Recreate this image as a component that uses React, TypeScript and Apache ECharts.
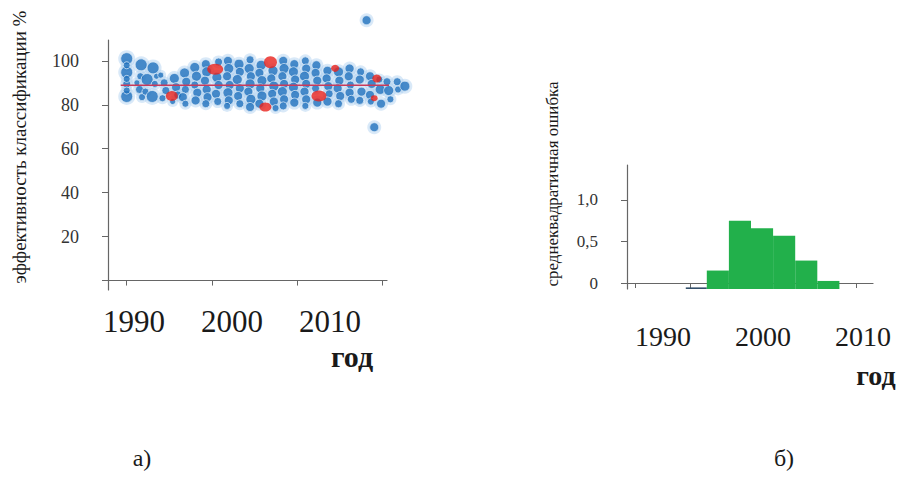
import React, { useEffect, useRef } from "react";
import * as echarts from "echarts";

// ---------- Panel а): classification efficiency by year ----------
const LEFT_Y_TICKS = [0, 20, 40, 60, 80, 100];
const LEFT_Y_LABELS = [20, 40, 60, 80, 100];
const LEFT_X_TICKS = [1990, 2000, 2010, 2020];
const LEFT_X_LABELS = [1990, 2000, 2010];
const MEAN_LINE = [[1989.3, 88.9], [2022.5, 88.9]];

// [year, efficiency %, dot size]
const BLUE_POINTS: number[][] = [
  [1990, 101, 12], [1990, 94.8, 12], [1990, 83.8, 12], [1990, 98, 7], [1990, 89.5, 8], [1990, 86.5, 7], [1990, 91.8, 7],
  [1991.7, 98.2, 12], [1991.5, 87, 8], [1991.8, 83.5, 7], [1991.6, 93, 7], [1991.2, 90, 6],
  [1992.4, 91.5, 12], [1992.2, 86, 7],
  [1993.1, 96.8, 12], [1993.0, 83.8, 12], [1993.3, 89.5, 7], [1993.5, 93, 6],
  [1994.4, 90, 8], [1994.6, 86.5, 8], [1994.2, 83, 7], [1994.0, 93.5, 6],
  [1995.6, 92, 10], [1995.8, 88, 9], [1996, 84.5, 8], [1995.4, 81.5, 6],
  [1996.8, 94.5, 10], [1997, 90.5, 9], [1996.9, 87, 8], [1996.6, 83.5, 9], [1996.9, 80.5, 7],
  [1998, 97, 10], [1998.2, 93, 10], [1998, 89, 8], [1998.3, 85.5, 9], [1998.1, 82, 9],
  [1999.3, 98.5, 9], [1999.4, 95, 10], [1999.2, 91, 9], [1999.4, 87, 9], [1999.5, 83.5, 9], [1999.3, 80.5, 8],
  [2000.8, 99.5, 8], [2000.6, 92.5, 10], [2000.8, 89, 9], [2000.5, 85, 9], [2000.7, 81.5, 8],
  [2001.9, 100, 9], [2002, 96.5, 10], [2001.8, 93, 9], [2002.1, 89, 9], [2001.9, 85.5, 10], [2002, 82, 9], [2001.8, 79.5, 7],
  [2003.2, 98.5, 10], [2003.3, 95, 9], [2003, 91.5, 10], [2003.3, 87.5, 9], [2003.1, 84, 9], [2003.3, 80.5, 8],
  [2004.5, 100.5, 8], [2004.4, 96.5, 10], [2004.6, 93, 9], [2004.5, 89.5, 10], [2004.3, 86, 9], [2004.6, 82.5, 10], [2004.5, 79, 9],
  [2005.8, 98, 10], [2005.6, 94.5, 9], [2005.9, 91, 10], [2005.7, 87.5, 9], [2005.9, 84, 10], [2005.6, 80.5, 9],
  [2007.2, 95.5, 10], [2007, 92, 9], [2007.3, 88.5, 10], [2007.1, 85, 9], [2007.3, 81.5, 9], [2007.5, 78.5, 7],
  [2008.4, 100, 9], [2008.5, 96.5, 10], [2008.3, 93, 9], [2008.5, 89.5, 9], [2008.3, 86, 10], [2008.5, 82.5, 9], [2008.4, 79.5, 8],
  [2009.7, 98.5, 9], [2009.6, 95, 10], [2009.8, 91.5, 9], [2009.6, 88, 10], [2009.8, 84.5, 9], [2009.7, 81, 9],
  [2011, 100, 8], [2011.1, 96.5, 9], [2010.9, 93, 10], [2011.1, 89.5, 9], [2010.9, 86, 9], [2011.1, 82.5, 9], [2011, 79.5, 7],
  [2012.3, 98, 9], [2012.2, 94.5, 9], [2012.4, 91, 9], [2012.2, 87.5, 8], [2012.4, 81, 9],
  [2013.6, 95.5, 9], [2013.5, 92, 9], [2013.7, 88.5, 9], [2013.8, 85, 8], [2013.6, 81.5, 9],
  [2014.9, 95, 10], [2015, 91, 9], [2014.8, 87.5, 9], [2015.1, 84, 9], [2014.9, 80.5, 8],
  [2016.2, 96.5, 9], [2016.1, 93, 9], [2016.3, 89, 8], [2016.2, 85.5, 9], [2016.4, 82.5, 8],
  [2017.5, 95, 8], [2017.4, 91.5, 9], [2017.6, 86, 9], [2017.4, 82, 8],
  [2018.6, 93, 9], [2018.8, 89.5, 9], [2018.6, 84.5, 9], [2018.7, 81.5, 7],
  [2019.8, 87, 10], [2019.7, 91.5, 7], [2019.9, 80.5, 9],
  [2020.8, 86.5, 10], [2020.6, 90.5, 8], [2021, 82.5, 7],
  [2021.8, 90.5, 8], [2021.9, 87, 7],
  [2022.7, 88.5, 10],
  [2018.2, 118.5, 9], [2019.1, 69.8, 9],
];

// [year, efficiency %, width, height]
const RED_POINTS: number[][] = [
  [1995.3, 84, 12, 10], [2000.4, 96.2, 16, 11], [2006.9, 99.4, 13, 12], [2006.3, 79, 12, 9],
  [2012.6, 84, 15, 11], [2014.5, 96.6, 8, 7], [2019.4, 92, 9, 8], [2019.1, 83, 7, 6],
];

// ---------- Panel б): RMSE histogram ----------
const BIN_START = [1989.6, 1991.5, 1993.5, 1995.5, 1997.5, 1999.5, 2001.5];
const BIN_END = [1991.5, 1993.5, 1995.5, 1997.5, 1999.5, 2001.5, 2003.5];
const RMSE = [0, 0.15, 0.75, 0.66, 0.57, 0.27, 0.025];
const RIGHT_Y_TICKS = [0, 0.5, 1.0];
const RIGHT_X_TICKS = [1985, 1990, 1995, 2000, 2005];
const RIGHT_X_LABELS = [1990, 2000, 2010];

const SERIF = "Liberation Serif";
const AXIS_COLOR = "#666";
const TEXT_COLOR = "#1a1a1a";
const RIGHT_Y_MIN = -0.072;

export default function App() {
  const ref = useRef<HTMLDivElement>(null);
  useEffect(() => {
    if (!ref.current) return;
    const chart = echarts.init(ref.current, null, { renderer: "svg" });
    const axisLine = { show: true, lineStyle: { color: AXIS_COLOR, width: 1.2 } };
    const hist = BIN_START.map((s, i) => [s, BIN_END[i], RMSE[i]]);
    const yearFmt = (v: number) => String(v);
    chart.setOption({
      animation: false,
      backgroundColor: "#fff",
      grid: [
        { left: 108, top: 40, width: 279, height: 250 },
        { left: 627, top: 165, width: 246, height: 124 },
      ],
      xAxis: [
        {
          gridIndex: 0, type: "value", min: 1987.8, max: 2020.6, position: "bottom",
          axisLine, splitLine: { show: false },
          axisTick: { show: true, customValues: LEFT_X_TICKS, length: 5, lineStyle: { color: AXIS_COLOR } },
          axisLabel: { show: false },
        },
        {
          gridIndex: 0, type: "value", min: 1987.35, max: 2015.82, position: "bottom",
          axisLine: { show: false }, axisTick: { show: false }, splitLine: { show: false },
          axisLabel: { customValues: LEFT_X_LABELS, formatter: yearFmt, fontSize: 31, fontFamily: SERIF, color: TEXT_COLOR, margin: 16 },
        },
        {
          gridIndex: 1, type: "value", min: 1984.28, max: 2006.54, position: "bottom",
          axisLine, splitLine: { show: false },
          axisTick: { show: true, customValues: RIGHT_X_TICKS, length: 5, lineStyle: { color: AXIS_COLOR } },
          axisLabel: { show: false },
        },
        {
          gridIndex: 1, type: "value", min: 1986.4, max: 2011.0, position: "bottom",
          axisLine: { show: false }, axisTick: { show: false }, splitLine: { show: false },
          axisLabel: { customValues: RIGHT_X_LABELS, formatter: yearFmt, fontSize: 28, fontFamily: SERIF, color: TEXT_COLOR, margin: 33 },
        },
      ],
      yAxis: [
        {
          gridIndex: 0, type: "value", min: -4.3, max: 109.5,
          axisLine, splitLine: { show: false },
          axisTick: { show: true, customValues: LEFT_Y_TICKS, length: 6, lineStyle: { color: AXIS_COLOR } },
          axisLabel: { customValues: LEFT_Y_LABELS, fontSize: 18, fontFamily: SERIF, color: "#333", margin: 29 },
        },
        {
          gridIndex: 1, type: "value", min: RIGHT_Y_MIN, max: 1.42,
          axisLine, splitLine: { show: false },
          axisTick: { show: true, customValues: RIGHT_Y_TICKS, length: 6, lineStyle: { color: AXIS_COLOR } },
          axisLabel: {
            customValues: RIGHT_Y_TICKS, fontSize: 17, fontFamily: SERIF, color: "#333", margin: 29,
            formatter: (v: number) => (v === 0 ? "0" : v.toFixed(1).replace(".", ",")),
          },
        },
      ],
      series: [
        {
          type: "scatter", xAxisIndex: 0, yAxisIndex: 0, clip: false, silent: true,
          data: BLUE_POINTS,
          symbolSize: (d: number[]) => d[2] + 5,
          itemStyle: { color: "rgba(160,200,238,0.5)" },
          z: 1,
        },
        {
          type: "scatter", xAxisIndex: 0, yAxisIndex: 0, clip: false,
          data: BLUE_POINTS,
          symbolSize: (d: number[]) => d[2],
          itemStyle: { color: "#1f70bd", borderColor: "#d6e7f6", borderWidth: 1 },
          z: 2,
        },
        {
          type: "scatter", xAxisIndex: 0, yAxisIndex: 0, clip: false,
          data: RED_POINTS,
          symbolSize: (d: number[]) => [d[2], d[3]],
          itemStyle: { color: "#e8221c" },
          z: 3,
        },
        {
          type: "line", xAxisIndex: 0, yAxisIndex: 0, clip: false,
          data: MEAN_LINE, symbol: "none",
          lineStyle: { color: "#c93a5a", width: 1.4 },
          z: 4,
        },
        {
          type: "custom", xAxisIndex: 2, yAxisIndex: 1,
          data: hist,
          encode: { x: [0, 1], y: 2 },
          renderItem: (params: any, api: any) => {
            const x0 = api.value(0);
            const x1 = api.value(1);
            const v = api.value(2);
            const p0 = api.coord([x0, RIGHT_Y_MIN]);
            const p1 = api.coord([x1, v]);
            if (v <= 0) {
              return {
                type: "rect",
                shape: { x: p0[0], y: p0[1] - 1.6, width: p1[0] - p0[0], height: 1.6 },
                style: { fill: "#34506b" },
              };
            }
            return {
              type: "rect",
              shape: { x: p0[0], y: p1[1], width: p1[0] - p0[0], height: p0[1] - p1[1] },
              style: { fill: "#22b04b" },
            };
          },
          z: 2,
        },
      ],
      graphic: [
        {
          type: "text", x: 19, y: 147, rotation: Math.PI / 2,
          style: { text: "эффективность классификации %", fontSize: 19, fontFamily: SERIF, fill: TEXT_COLOR, textAlign: "center", textVerticalAlign: "middle" },
        },
        {
          type: "text", x: 552, y: 184, rotation: Math.PI / 2,
          style: { text: "среднеквадратичная ошибка", fontSize: 17, fontFamily: SERIF, fill: TEXT_COLOR, textAlign: "center", textVerticalAlign: "middle" },
        },
        {
          type: "text", x: 352, y: 356,
          style: { text: "год", fontSize: 30, fontWeight: "bold", fontFamily: SERIF, fill: TEXT_COLOR, textAlign: "center", textVerticalAlign: "middle" },
        },
        {
          type: "text", x: 876, y: 375,
          style: { text: "год", fontSize: 28, fontWeight: "bold", fontFamily: SERIF, fill: TEXT_COLOR, textAlign: "center", textVerticalAlign: "middle" },
        },
        {
          type: "text", x: 142, y: 458,
          style: { text: "а)", fontSize: 24, fontFamily: SERIF, fill: TEXT_COLOR, textAlign: "center", textVerticalAlign: "middle" },
        },
        {
          type: "text", x: 784, y: 458,
          style: { text: "б)", fontSize: 24, fontFamily: SERIF, fill: TEXT_COLOR, textAlign: "center", textVerticalAlign: "middle" },
        },
      ],
    });
    return () => chart.dispose();
  }, []);
  return <div ref={ref} style={{ position: "fixed", left: 0, top: 0, width: 907, height: 493 }} />;
}
